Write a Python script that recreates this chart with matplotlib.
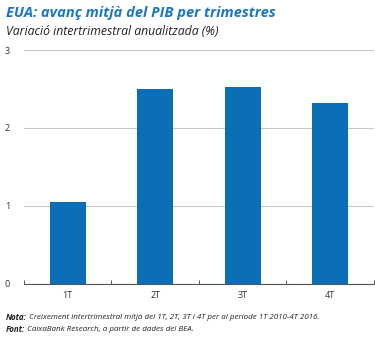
import matplotlib
matplotlib.use('Agg')
import matplotlib.pyplot as plt
from matplotlib.ticker import FixedLocator

categories = ['1T', '2T', '3T', '4T']
values = [1.05, 2.50, 2.52, 2.32]
yticks = [0, 1, 2, 3]

BLUE = '#0a6fb7'
TITLE_BLUE = '#1a78c2'

plt.rcParams['font.family'] = ['Open Sans', 'DejaVu Sans']

fig = plt.figure(figsize=(3.75, 3.38), dpi=100)
ax = fig.add_axes([0.064, 0.16, 0.933, 0.692])

x = range(len(categories))
ax.bar(x, values, width=0.41, color=BLUE, zorder=3)

ax.set_xlim(-0.5, len(categories) - 0.5)
ax.set_ylim(0, 3)
ax.set_yticks(yticks)
ax.set_yticklabels([str(t) for t in yticks], fontsize=6.5, color='#333333')
ax.set_xticks(list(x))
ax.set_xticklabels(categories, fontsize=6.5, color='#333333')
ax.tick_params(axis='y', length=0, pad=10)
ax.tick_params(axis='x', which='major', length=0, pad=5)
ax.xaxis.set_minor_locator(FixedLocator([i - 0.5 for i in range(len(categories) + 1)]))
ax.tick_params(axis='x', which='minor', direction='in', length=3, width=0.7, color='#555555')

ax.grid(axis='y', color='#c8c8c8', linewidth=0.8, zorder=0)
for s in ['top', 'right', 'left']:
    ax.spines[s].set_visible(False)
ax.spines['bottom'].set_color('#555555')
ax.spines['bottom'].set_linewidth(0.8)
ax.spines['bottom'].set_zorder(4)

fig.text(0.016, 0.963, 'EUA: avanç mitjà del PIB per trimestres', fontsize=10.5,
         fontweight='bold', style='italic', color=TITLE_BLUE, va='center', ha='left')
fig.text(0.016, 0.906, 'Variació intertrimestral anualitzada (%)', fontsize=8.8,
         style='italic', color='#222222', va='center', ha='left')

t1 = fig.text(0.016, 0.062, 'Nota:', fontsize=5.8, fontweight='bold', style='italic',
              color='#222222', va='center', ha='left')
fig.canvas.draw()
ax.annotate(' Creixement intertrimestral mitjà del 1T, 2T, 3T i 4T per al període 1T 2010-4T 2016.',
            xy=(1, 0.5), xycoords=t1, va='center', ha='left', fontsize=5.8,
            style='italic', color='#222222')
t2 = fig.text(0.016, 0.026, 'Font:', fontsize=5.8, fontweight='bold', style='italic',
              color='#222222', va='center', ha='left')
ax.annotate(' CaixaBank Research, a partir de dades del BEA.',
            xy=(1, 0.5), xycoords=t2, va='center', ha='left', fontsize=5.8,
            style='italic', color='#222222')

fig.savefig('out.png', dpi=100)
